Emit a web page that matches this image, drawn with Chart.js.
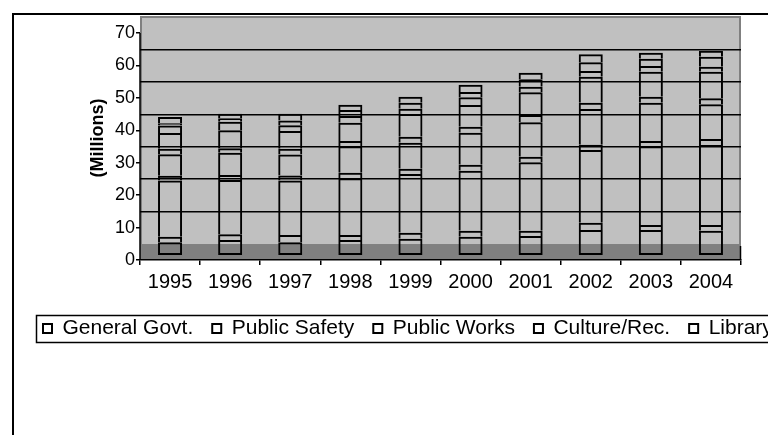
<!DOCTYPE html>
<html><head><meta charset="utf-8">
<script src="https://cdn.jsdelivr.net/npm/chart.js@4"></script>
<style>
html,body{margin:0;padding:0;overflow:hidden;background:#fff;width:768px;height:435px}
#wrap{position:absolute;left:0;top:0;width:1600px;height:435px}
</style></head><body>
<div id="wrap"><canvas id="c" width="1600" height="435"></canvas></div>
<script>
// ---- data ----
const years = ['1995','1996','1997','1998','1999','2000','2001','2002','2003','2004'];
const seriesNames = ['General Govt.','Public Safety','Public Works','Culture/Rec.','Library','Health','Community Dev.','Debt Service','Capital Outlay','Other'];
const generalGovt   = [3.95, 4.63, 3.90, 4.63, 5.03, 5.64, 5.86, 7.71, 7.71, 7.49];
const publicSafety  = [1.69, 1.75, 2.30, 1.54, 1.85, 1.85, 1.63, 2.25, 1.54, 1.76];
const publicWorks   = [17.36,16.75,16.80,17.48,18.10,18.50,21.09,22.42,24.27,24.67];
const cultureRec    = [1.45, 1.54, 1.55, 1.73, 1.63, 1.85, 1.73, 1.63, 1.63, 1.85];
const library       = [6.60, 6.88, 6.47, 8.14, 8.02, 9.87, 10.61,11.01,11.81,10.70];
const health        = [1.75, 1.35, 1.73, 1.63, 1.85, 1.85, 2.25, 1.94, 1.85, 1.85];
const communityDev  = [4.80, 5.55, 5.46, 5.65, 7.00, 6.69, 7.00, 8.02, 7.71, 8.20];
const debtService   = [2.30, 2.65, 1.84, 2.06, 1.63, 2.38, 1.73, 1.76, 1.76, 1.54];
const capitalOutlay = [0.70, 1.05, 1.45, 1.85, 1.85, 1.63, 2.28, 2.68, 2.25, 3.08];
const other         = [1.95, 1.42, 2.04, 1.64, 1.85, 2.26, 2.03, 2.47, 1.85, 1.85];
const yTickValues = [0,10,20,30,40,50,60,70];
const gridValues  = [10,20,30,40,50,60];

const seriesData = [generalGovt, publicSafety, publicWorks, cultureRec, library, health, communityDev, debtService, capitalOutlay, other];

// ---- layout constants ----
const W = 1600;
const PLOT_LEFT = 140;
const PLOT_RIGHT = 741;
const PAD_LEFT = 24;
const FONT = 'Arial, "Liberation Sans", sans-serif';
const AXIS_MAX = 75.24;
const WALL_DEPTH = 4.93;
const BAR_DEPTH = 1.54;

const datasets = seriesData.map((d, i) => ({
  label: seriesNames[i],
  data: d,
  backgroundColor: 'rgba(0,0,0,0)',
  borderColor: '#000',
  borderWidth: 2,
  borderSkipped: i === 0 ? false : 'start',
  yAxisID: 'yBar',
  stack: 's',
  barPercentage: 0.4,
  categoryPercentage: 1.0
}));

const scenePlugin = {
  id: 'scene',
  beforeDraw(chart) {
    const {ctx, chartArea: ca, scales} = chart;
    const floorTop = scales.yGrid.getPixelForValue(0);
    ctx.save();
    ctx.fillStyle = '#fff';
    ctx.fillRect(0, 0, chart.width, chart.height);
    ctx.fillStyle = '#c0c0c0';
    ctx.fillRect(ca.left, ca.top, ca.right - ca.left, floorTop - ca.top);
    ctx.fillStyle = '#808080';
    ctx.fillRect(ca.left, floorTop, ca.right - ca.left, ca.bottom - floorTop);
    ctx.strokeStyle = '#808080';
    ctx.lineWidth = 2;
    ctx.beginPath();
    ctx.moveTo(ca.left + 1, floorTop);
    ctx.lineTo(ca.left + 1, ca.top + 1);
    ctx.lineTo(ca.right - 1, ca.top + 1);
    ctx.lineTo(ca.right - 1, floorTop);
    ctx.stroke();
    ctx.restore();
  },
  afterDraw(chart) {
    const {ctx, chartArea: ca, scales} = chart;
    ctx.save();
    ctx.strokeStyle = '#000';
    ctx.lineWidth = 1.5;
    ctx.beginPath();
    ctx.moveTo(ca.left, scales.y.getPixelForValue(70));
    ctx.lineTo(ca.left, ca.bottom);
    ctx.stroke();
    const floorTop = scales.yGrid.getPixelForValue(0);
    ctx.beginPath();
    ctx.moveTo(ca.right - 0.5, floorTop + 2);
    ctx.lineTo(ca.right - 0.5, ca.bottom);
    ctx.stroke();
    ctx.lineWidth = 1.5;
    ctx.strokeRect(36.5, 315.5, chart.width, 27);
    ctx.lineWidth = 2;
    ctx.strokeRect(13, 14, chart.width, chart.height);
    ctx.restore();
  }
};

new Chart(document.getElementById('c'), {
  type: 'bar',
  data: { labels: years, datasets },
  options: {
    responsive: false,
    animation: false,
    devicePixelRatio: 1,
    layout: { padding: { left: PAD_LEFT, top: 16, right: 0, bottom: 86 } },
    plugins: {
      legend: {
        position: 'bottom',
        align: 'start',
        labels: { boxWidth: 9, boxHeight: 9, padding: 19, color: '#000', font: { family: FONT, size: 21 } }
      },
      tooltip: { enabled: false }
    },
    scales: {
      x: {
        stacked: true,
        offset: true,
        grid: { offset: true, drawOnChartArea: false, drawTicks: true, tickLength: 5, color: '#000', lineWidth: 1.5 },
        border: { display: true, color: '#000', width: 1.5 },
        ticks: { color: '#000', font: { family: FONT, size: 20 }, padding: 5, maxRotation: 0, autoSkip: false },
        afterFit: s => { s.height = 39; }
      },
      y: {
        position: 'left',
        min: 0, max: AXIS_MAX,
        afterBuildTicks: s => { s.ticks = yTickValues.map(v => ({ value: v })); },
        ticks: { color: '#000', font: { family: FONT, size: 18 }, padding: 1 },
        grid: { drawOnChartArea: false, drawTicks: true, tickLength: 4, color: '#000', lineWidth: 1.5 },
        border: { display: false },
        title: { display: true, text: '(Millions)', color: '#000', font: { family: FONT, size: 18, weight: 'bold' }, padding: { top: 63, bottom: 0 } },
        afterFit: s => { s.width = PLOT_LEFT - PAD_LEFT; }
      },
      yGrid: {
        position: 'right',
        min: -WALL_DEPTH, max: AXIS_MAX - WALL_DEPTH,
        afterBuildTicks: s => { s.ticks = gridValues.map(v => ({ value: v })); },
        ticks: { display: false },
        grid: { drawOnChartArea: true, drawTicks: false, color: '#000', lineWidth: 1.5 },
        border: { display: false },
        afterFit: s => { s.width = W - PLOT_RIGHT; }
      },
      yBar: {
        display: false,
        stacked: true,
        min: -BAR_DEPTH, max: AXIS_MAX - BAR_DEPTH
      }
    }
  },
  plugins: [scenePlugin]
});
</script>
</body></html>
